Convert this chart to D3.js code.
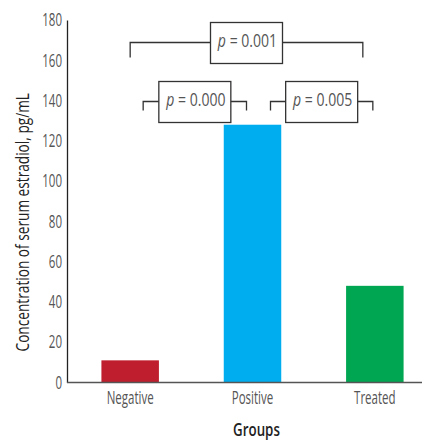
<!DOCTYPE html>
<html>
<head>
<meta charset="utf-8">
<script src="https://cdn.jsdelivr.net/npm/d3@7"></script>
<style>
	body { margin: 0; background: #fff; }
	#canvas { width: 422px; height: 442px; }
	text { font-family: 'Open Sans', 'Noto Sans', sans-serif; }
</style>
</head>
<body>
<div id="canvas"></div>
<script>
const groups = ['Negative', 'Positive', 'Treated'];
const values = [11, 128, 48];
const barColors = ['#be1e2d', '#00aeef', '#00a651'];
const yTicks = [0, 20, 40, 60, 80, 100, 120, 140, 160, 180];
// comparisons: from / to group, bracket level (data units), end offsets in px
const comparisons = [
	{ from: 'Negative', to: 'Treated', level: 169, label: '0.001', dx: [0, -12], drop: 15 },
	{ from: 'Negative', to: 'Positive', level: 140, label: '0.000', dx: [13, -6], drop: 9 },
	{ from: 'Positive', to: 'Treated', level: 140, label: '0.005', dx: [18, -2], drop: 9 },
];

const width = 422;
const height = 442;
const margins = { top: 20, bottom: 59, left: 67 };

// no condensed font installed, so squeeze text horizontally
function condense(sel, s) {
	sel.each(function () {
		const t = d3.select(this);
		const x0 = +t.attr('x') || 0;
		t.attr('x', x0 / s).attr('transform', `scale(${s},1)`);
	});
}

const svg = d3.select('#canvas').append('svg').attr('width', width).attr('height', height);

const x = d3.scaleBand()
	.domain(groups)
	.range([69, 436])
	.paddingInner(0.53)
	.paddingOuter(0.265);

const y = d3.scaleLinear()
	.domain([0, 180])
	.range([height - margins.bottom - 0.5, margins.top]);

// bars
svg.append('g')
	.selectAll('rect')
	.data(groups)
	.join('rect')
	.attr('x', d => x(d))
	.attr('width', x.bandwidth())
	.attr('y', (d, i) => y(values[i]))
	.attr('height', (d, i) => y(0) - y(values[i]))
	.attr('fill', (d, i) => barColors[i]);

// y axis
const yAxis = svg.append('g')
	.attr('transform', `translate(${margins.left},0)`)
	.call(d3.axisLeft(y).tickValues(yTicks).tickSize(0).tickPadding(5));
yAxis.select('.domain').attr('stroke', '#222').attr('stroke-width', 1.3);
yAxis.selectAll('text').attr('font-size', 18).attr('fill', '#555')
	.attr('font-family', "'Open Sans', 'Noto Sans', sans-serif")
	.call(condense, 0.64);

// x axis
svg.append('line')
	.attr('x1', margins.left).attr('x2', width)
	.attr('y1', y(0)).attr('y2', y(0))
	.attr('stroke', '#555').attr('stroke-width', 1.3);

const xAxis = svg.append('g')
	.attr('transform', `translate(0,${y(0)})`)
	.call(d3.axisBottom(x).tickSize(0).tickPadding(9));
xAxis.select('.domain').remove();
xAxis.selectAll('text').attr('font-size', 18).attr('fill', '#555')
	.attr('font-family', "'Open Sans', 'Noto Sans', sans-serif")
	.call(condense, 0.64);

// axis titles
svg.append('text')
	.attr('transform', `translate(29,${(y(0) + y(180)) / 2 + 21}) rotate(-90) scale(0.76,1)`)
	.attr('text-anchor', 'middle')
	.attr('font-size', 18)
	.attr('fill', '#222')
	.text('Concentration of serum estradiol, pg/mL');

svg.append('text')
	.attr('transform', `translate(${x('Positive') + x.bandwidth() / 2 + 4},436) scale(0.74,1)`)
	.attr('text-anchor', 'middle')
	.attr('font-size', 18)
	.attr('font-weight', 600)
	.attr('fill', '#222')
	.text('Groups');

// significance brackets
const brackets = svg.append('g');
comparisons.forEach(c => {
	const x1 = x(c.from) + x.bandwidth() / 2 + c.dx[0];
	const x2 = x(c.to) + x.bandwidth() / 2 + c.dx[1];
	const yy = Math.round(y(c.level)) + 0.5;
	brackets.append('path')
		.attr('d', `M${x1},${yy + c.drop}V${yy}H${x2}V${yy + c.drop}`)
		.attr('fill', 'none')
		.attr('stroke', '#333')
		.attr('stroke-width', 1.3);

	const cx = (x1 + x2) / 2;
	const boxW = 72;
	const boxH = 41;
	brackets.append('rect')
		.attr('x', cx - boxW / 2)
		.attr('y', yy - 20)
		.attr('width', boxW)
		.attr('height', boxH)
		.attr('fill', '#fff')
		.attr('stroke', '#333')
		.attr('stroke-width', 1.3);

	const t = brackets.append('text')
		.attr('transform', `translate(${cx + 1},${yy + 4.5}) scale(0.74,1)`)
		.attr('text-anchor', 'middle')
		.attr('font-size', 19)
		.attr('fill', '#555');
	t.append('tspan').attr('font-style', 'italic').text('p');
	t.append('tspan').text(` = ${c.label}`);
});
</script>
</body>
</html>
